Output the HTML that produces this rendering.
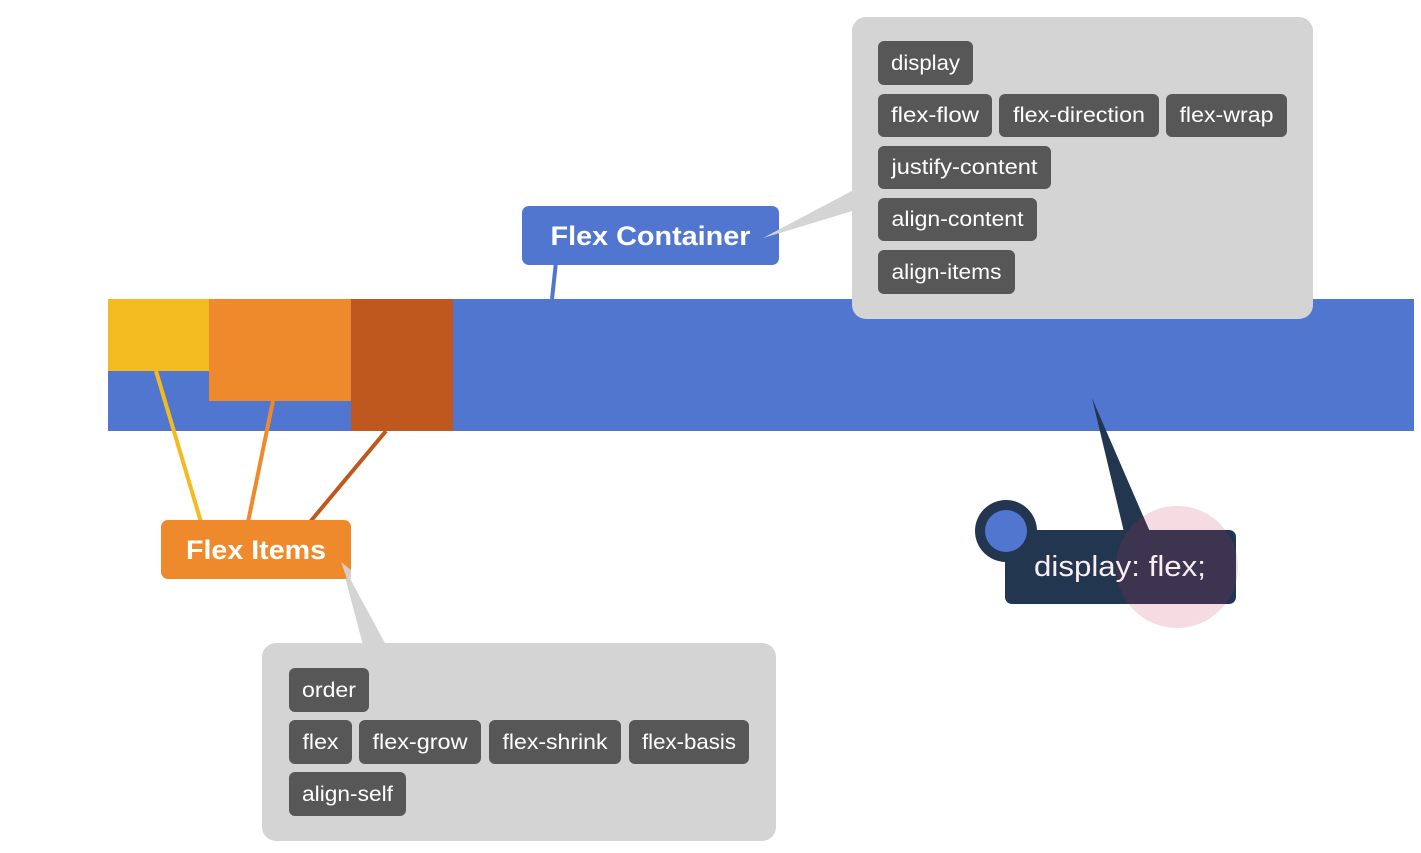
<!DOCTYPE html>
<html><head><meta charset="utf-8"><style>
html,body{margin:0;padding:0;background:#fff;width:1421px;height:853px;overflow:hidden}
svg{display:block}
.t{font-family:"Liberation Sans","DejaVu Sans",sans-serif;font-size:21px;fill:#fff}
.b{font-family:"Liberation Sans","DejaVu Sans",sans-serif;font-weight:bold;fill:#fff}
</style></head><body>
<svg width="1421" height="853" viewBox="0 0 1421 853" xmlns="http://www.w3.org/2000/svg">
<defs>
<clipPath id="dk">
<rect x="1005" y="530" width="231" height="74" rx="7"/>
<polygon points="1092,398 1124,532 1150,532"/>
</clipPath>
</defs>
<!-- bar -->
<rect x="108" y="299" width="1306" height="132" fill="#5076d0"/>
<rect x="108" y="299" width="101" height="72" fill="#f3bb20"/>
<rect x="209" y="299" width="142" height="102" fill="#ef8a2c"/>
<rect x="351" y="299" width="102" height="132" fill="#bf581e"/>

<!-- container panel -->
<polygon points="763,238 852,191 852,211" fill="#d4d4d4"/>
<rect x="852" y="17" width="461" height="302" rx="14" fill="#d4d4d4"/>
<g>
<rect x="878" y="41" width="95" height="44" rx="6" fill="#575757"/><text class="t" x="925.5" y="70" text-anchor="middle" textLength="69" lengthAdjust="spacingAndGlyphs">display</text>
<rect x="878" y="94" width="114" height="43" rx="6" fill="#575757"/><text class="t" x="935" y="122" text-anchor="middle" textLength="88" lengthAdjust="spacingAndGlyphs">flex-flow</text>
<rect x="999" y="94" width="160" height="43" rx="6" fill="#575757"/><text class="t" x="1079" y="122" text-anchor="middle" textLength="132" lengthAdjust="spacingAndGlyphs">flex-direction</text>
<rect x="1166" y="94" width="121" height="43" rx="6" fill="#575757"/><text class="t" x="1226.5" y="122" text-anchor="middle" textLength="94" lengthAdjust="spacingAndGlyphs">flex-wrap</text>
<rect x="878" y="146" width="173" height="43" rx="6" fill="#575757"/><text class="t" x="964.5" y="174" text-anchor="middle" textLength="146" lengthAdjust="spacingAndGlyphs">justify-content</text>
<rect x="878" y="198" width="159" height="43" rx="6" fill="#575757"/><text class="t" x="957.5" y="226" text-anchor="middle" textLength="132" lengthAdjust="spacingAndGlyphs">align-content</text>
<rect x="878" y="250" width="137" height="44" rx="6" fill="#575757"/><text class="t" x="946.5" y="279" text-anchor="middle" textLength="110" lengthAdjust="spacingAndGlyphs">align-items</text>
</g>

<!-- flex container label -->
<line x1="556" y1="262" x2="552" y2="299" stroke="#5076d0" stroke-width="4"/>
<rect x="522" y="206" width="257" height="59" rx="7" fill="#5076d0"/>
<polygon points="763,238 852,191 852,211" fill="#d4d4d4"/>
<text class="b" x="650.5" y="245" font-size="27" text-anchor="middle" textLength="200" lengthAdjust="spacingAndGlyphs">Flex Container</text>

<!-- item connectors -->
<line x1="156" y1="371" x2="201" y2="522" stroke="#f3bb20" stroke-width="4"/>
<line x1="273" y1="401" x2="248" y2="522" stroke="#ef8a2c" stroke-width="4"/>
<line x1="386" y1="431" x2="310" y2="522" stroke="#bf581e" stroke-width="4"/>

<!-- items panel -->
<polygon points="341,562 363,645 386,645" fill="#d4d4d4"/>
<rect x="262" y="643" width="514" height="198" rx="14" fill="#d4d4d4"/>
<rect x="161" y="520" width="190" height="59" rx="7" fill="#ef8a2c"/>
<polygon points="341,562 347,579 351,579 351,570" fill="#d4d4d4" opacity="0.9"/>
<text class="b" x="256" y="559" font-size="27" text-anchor="middle" textLength="140" lengthAdjust="spacingAndGlyphs">Flex Items</text>
<g>
<rect x="289" y="668" width="80" height="44" rx="6" fill="#575757"/><text class="t" x="329" y="697" text-anchor="middle" textLength="54" lengthAdjust="spacingAndGlyphs">order</text>
<rect x="289" y="720" width="63" height="44" rx="6" fill="#575757"/><text class="t" x="320.5" y="749" text-anchor="middle" textLength="36" lengthAdjust="spacingAndGlyphs">flex</text>
<rect x="359" y="720" width="122" height="44" rx="6" fill="#575757"/><text class="t" x="420" y="749" text-anchor="middle" textLength="95" lengthAdjust="spacingAndGlyphs">flex-grow</text>
<rect x="489" y="720" width="132" height="44" rx="6" fill="#575757"/><text class="t" x="555" y="749" text-anchor="middle" textLength="105" lengthAdjust="spacingAndGlyphs">flex-shrink</text>
<rect x="629" y="720" width="120" height="44" rx="6" fill="#575757"/><text class="t" x="689" y="749" text-anchor="middle" textLength="94" lengthAdjust="spacingAndGlyphs">flex-basis</text>
<rect x="289" y="772" width="117" height="44" rx="6" fill="#575757"/><text class="t" x="347.5" y="801" text-anchor="middle" textLength="91" lengthAdjust="spacingAndGlyphs">align-self</text>
</g>

<!-- display: flex -->
<circle cx="1177" cy="567" r="61" fill="#f5dce3"/>
<rect x="1005" y="530" width="231" height="74" rx="7" fill="#233650"/>
<polygon points="1092,398 1124,532 1150,532" fill="#233650"/>
<circle cx="1177" cy="567" r="61" fill="#3d3450" clip-path="url(#dk)"/>
<circle cx="1006" cy="531" r="31" fill="#233650"/>
<circle cx="1006" cy="531" r="21" fill="#5076d0"/>
<text x="1034" y="576" font-family="'Liberation Sans','DejaVu Sans',sans-serif" font-size="29" fill="#fbeef2" textLength="172" lengthAdjust="spacingAndGlyphs">display: flex;</text>
</svg>
</body></html>
